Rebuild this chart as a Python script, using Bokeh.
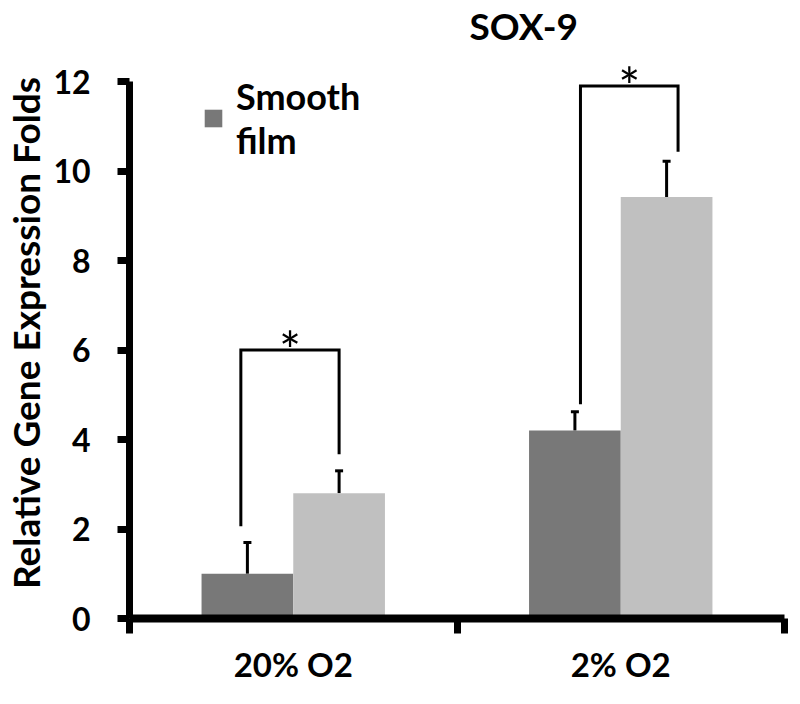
from bokeh.plotting import figure
from bokeh.models import (ColumnDataSource, Whisker, TeeHead, FixedTicker,
                          Legend, LegendItem, Range1d)
from bokeh.core.properties import value
from bokeh.embed import file_html
from bokeh.resources import INLINE

# ---- data ----
categories = ["20% O2", "2% O2"]
smooth_film = [1.0, 4.2]
smooth_film_err = [0.7, 0.42]
second_series = [2.8, 9.42]
second_series_err = [0.5, 0.8]
bracket_top = [6.0, 11.9]
bracket_left_end = [2.06, 4.79]
bracket_right_end = [3.67, 10.43]
star_text = ["*", "*"]
y_ticks = [0, 2, 4, 6, 8, 10, 12]

FONT = "Lato"
DARK = "#787878"
LIGHT = "#c0c0c0"
BAR_W = 0.28

centers = [i + 0.5 for i in range(len(categories))]
bounds_x = [float(i) for i in range(len(categories) + 1)]
dark_x = [c - BAR_W / 2 for c in centers]
light_x = [c + BAR_W / 2 for c in centers]

p = figure(width=790, height=688,
           x_range=Range1d(0, len(categories)), y_range=Range1d(0, 12.76),
           output_backend="svg", toolbar_location=None,
           min_border_left=122, min_border_right=6,
           min_border_top=44, min_border_bottom=70)
p.outline_line_color = None
p.grid.visible = False
p.background_fill_color = "white"

# title
p.title.text = "SOX-9"
p.title.align = "left"
p.title.offset = 340
p.title.text_font = FONT
p.title.text_font_size = "37px"
p.title.text_font_style = "bold"
p.title.text_color = "black"
p.title.standoff = 0

# bars
r_dark = p.vbar(x=dark_x, top=smooth_film, width=BAR_W, fill_color=DARK, line_color=None)
r_light = p.vbar(x=light_x, top=second_series, width=BAR_W, fill_color=LIGHT, line_color=None)

# error bars (upper only)
err_src = ColumnDataSource(data=dict(
    x=dark_x + light_x,
    lower=smooth_film + second_series,
    upper=[v + e for v, e in zip(smooth_film, smooth_film_err)] +
          [v + e for v, e in zip(second_series, second_series_err)],
))
p.add_layout(Whisker(source=err_src, base="x", lower="lower", upper="upper",
                     dimension="height", lower_head=None,
                     upper_head=TeeHead(size=8, line_width=3, line_color="black"),
                     line_width=3, line_color="black"))

# significance brackets
left_off = [-0.02, 0.017]
right_off = [0.0, 0.035]
xs, ys, sx, sy = [], [], [], []
for i in range(len(categories)):
    lx = dark_x[i] + left_off[i]
    rx = light_x[i] + right_off[i]
    xs.append([lx, lx, rx, rx])
    ys.append([bracket_left_end[i], bracket_top[i], bracket_top[i], bracket_right_end[i]])
    sx.append((lx + rx) / 2)
    sy.append(bracket_top[i])
p.multi_line(xs=xs, ys=ys, line_color="black", line_width=3, line_join="miter")
p.text(x=sx, y=sy, text=star_text, text_align="center", text_baseline="alphabetic",
       y_offset=0, text_font=value(FONT), text_font_size="52px", text_color="black")

# y axis
ya = p.yaxis[0]
ya.ticker = FixedTicker(ticks=y_ticks)
ya.bounds = (0, 12)
ya.axis_line_width = 7
ya.axis_line_color = "black"
ya.major_tick_line_width = 7
ya.major_tick_line_color = "black"
ya.major_tick_out = 12
ya.major_tick_in = 0
ya.minor_tick_line_color = None
ya.major_label_text_font = FONT
ya.major_label_text_font_size = "32px"
ya.major_label_text_font_style = "bold"
ya.major_label_text_color = "black"
ya.major_label_standoff = 27
ya.axis_label = "Relative Gene Expression Folds"
ya.axis_label_text_font = FONT
ya.axis_label_text_font_size = "37px"
ya.axis_label_text_font_style = "bold"
ya.axis_label_text_color = "black"
ya.axis_label_standoff = 2

# x axis
xa = p.xaxis[0]
xa.ticker = FixedTicker(ticks=centers, minor_ticks=bounds_x)
xa.major_label_overrides = {c: name for c, name in zip(centers, categories)}
xa.axis_line_width = 8
xa.axis_line_color = "black"
xa.major_tick_line_color = None
xa.major_tick_out = 0
xa.major_tick_in = 0
xa.minor_tick_line_color = "black"
xa.minor_tick_line_width = 7
xa.minor_tick_out = 15
xa.minor_tick_in = 0
xa.major_label_text_font = FONT
xa.major_label_text_font_size = "33px"
xa.major_label_text_font_style = "bold"
xa.major_label_text_color = "black"
xa.major_label_text_line_height = 1.0
xa.major_label_standoff = 10

# legend
legend = Legend(items=[LegendItem(label="Smooth\nfilm", renderers=[r_dark])],
                location=(73, 456), padding=0, margin=0, spacing=0,
                glyph_width=22, glyph_height=22, label_standoff=12,
                border_line_color=None, background_fill_alpha=0,
                label_text_font=FONT, label_text_font_size="36px",
                label_text_font_style="bold", label_text_color="black")
p.add_layout(legend)

open("out.html", "w").write(file_html(p, INLINE))
